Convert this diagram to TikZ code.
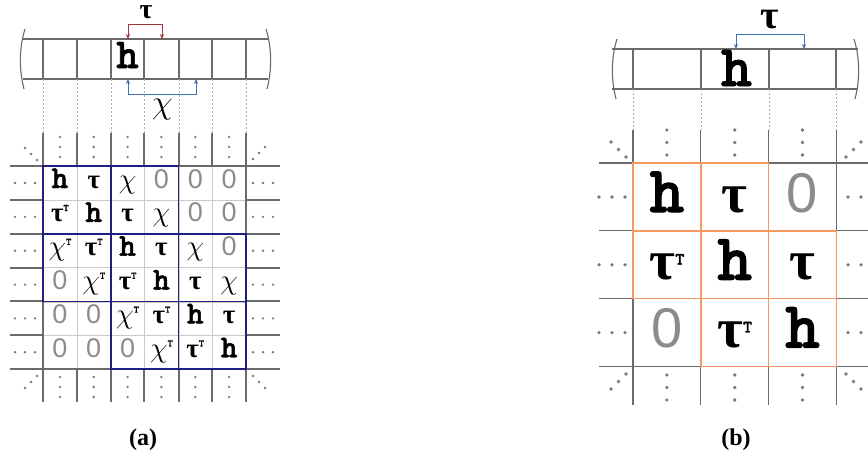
\documentclass[tikz,border=0pt]{standalone}
\usepackage{fontspec}
\setmainfont{Liberation Serif}
\newfontfamily\hfont{lmmonolt10-bold.otf}[FakeBold=1.5]
\newfontfamily\arl{Liberation Sans}
\usetikzlibrary{arrows.meta}
\usepackage{xcolor}
\definecolor{gridc}{HTML}{6A6A6A}
\definecolor{thinc}{HTML}{CACACA}
\definecolor{blkc}{HTML}{1E1E86}
\definecolor{orgc}{HTML}{F59A62}
\definecolor{redc}{HTML}{A0343A}
\definecolor{bluec}{HTML}{3C72B4}
\definecolor{dashc}{HTML}{A3ADC8}
\definecolor{dotc}{HTML}{777777}
\definecolor{zeroc}{HTML}{8C8C8C}
% matrix entries
\newcommand\eh{\scalebox{1.18}{\hfont h}}
\newcommand\et{{\rmfamily\bfseries τ}}
\newcommand\ex{\scalebox{1.15}{$\chi$}}
\newcommand\ez{{\arl\color{zeroc}0}}
\newcommand\trA{\raisebox{.4em}{\hfont\scalebox{.37}{T}}}
\newcommand\trB{\raisebox{.27em}{\hfont\scalebox{.31}{T}}}

\begin{document}
\begin{tikzpicture}[x=1pt, y=-1pt,
  gridline/.style={gridc, line width=1.1pt},
  thinline/.style={thinc, line width=.6pt},
  blkline/.style={blkc, line width=1.8pt},
  orgline/.style={orgc, line width=1.4pt},
  dashline/.style={dashc, line width=.6pt, dash pattern=on 2pt off 2pt},
  brk/.style={line width=.7pt, {Stealth[length=5pt,width=4pt]}-{Stealth[length=5pt,width=4pt]}},
  lbl/.style={inner sep=0, anchor=base, text height=.5em, text depth=0pt},
  ea/.style={font=\fontsize{27}{27}\selectfont, inner sep=0, anchor=base},
  eb/.style={font=\fontsize{56}{56}\selectfont, inner sep=0, anchor=base}]
  \useasboundingbox (0,0) rectangle (868,464);

  % ---------- (a) ----------
  % strip
  \draw[gridline] (23,39) -- (268,39) (23,79) -- (268,79);
  \foreach \x in {43,77,111,144,179,212,246}
    \draw[gridline] (\x,39) -- (\x,79);
  \draw[gridline] (25,29) .. controls (19,48) and (19,70) .. (24,89);
  \draw[gridline] (266,29) .. controls (272,48) and (272,70) .. (267,89);
  \foreach \x in {43,77,111,144,179,212,246}
    \draw[dashline] (\x,79) -- (\x,133);
  \node[font=\fontsize{36}{36}\selectfont, inner sep=0, anchor=base] (sha) at (127.5,68) {\eh};
  \coordinate (ra1) at (128,39);
  \coordinate (ra2) at (162,39);
  \coordinate (ba1) at (128,79);
  \coordinate (ba2) at (196,79);
  \draw[brk, redc] (ra1) -- ++(0,-15) -| (ra2);
  \draw[brk, bluec] (ba1) -- ++(0,15) -| (ba2);
  \node[lbl, font=\fontsize{28}{28}\selectfont] (taua) at (146,18) {\et};
  \node[font=\fontsize{25}{25}\selectfont, inner sep=0, anchor=base] (chia) at (162.5,113) {\scalebox{1.17}{\ex}};

  % grid
  \foreach \y in {166,200,234,268,301,335,369}
    \draw[gridline] (10,\y) -- (43,\y) (246,\y) -- (280,\y);
  \foreach \x in {43,77,111,144,179,212,246}
    \draw[gridline] (\x,133) -- (\x,166) (\x,369) -- (\x,402);
  \foreach \v in {77,111,144,179,212} {
    \draw[thinline] (\v,166) -- (\v,369);
    \draw[thinline] (43,\v+123) -- (246,\v+123);
  }
  \draw[gridline] (43,166) rectangle (246,369);
  \foreach \c/\r in {0/0,1/0,0/1,1/1,2/1,1/2,2/2}
    \draw[blkline] ({43+67.7*\c},{166+67.7*\r}) rectangle ++(67.7,67.7);

  \foreach \e [count=\i from 0] in {
      \eh,\et,\ex,\ez,\ez,\ez,
      \et\trA,\eh,\et,\ex,\ez,\ez,
      \ex\trA,\et\trA,\eh,\et,\ex,\ez,
      \ez,\ex\trA,\et\trA,\eh,\et,\ex,
      \ez,\ez,\ex\trA,\et\trA,\eh,\et,
      \ez,\ez,\ez,\ex\trA,\et\trA,\eh} {
    \pgfmathtruncatemacro\cc{mod(\i,6)}
    \pgfmathtruncatemacro\rr{\i/6}
    \node[ea] (a\i) at ({59.9+33.85*\cc},{188+33.85*\rr}) {\e};
  }

  % dots
  \foreach \k in {0,1,2} {
    \foreach \rr in {0,...,5} {
      \fill[dotc] ({15+10*\k},{183+33.85*\rr}) circle[radius=1.3pt];
      \fill[dotc] ({253+10*\k},{183+33.85*\rr}) circle[radius=1.3pt];
    }
    \foreach \cc in {0,...,5} {
      \fill[dotc] ({59.9+33.85*\cc},{137+10*\k}) circle[radius=1.3pt];
      \fill[dotc] ({59.9+33.85*\cc},{377+10*\k}) circle[radius=1.3pt];
    }
    \fill[dotc] ({25+6*\k},{148+6*\k}) circle[radius=1.3pt];
    \fill[dotc] ({253+6*\k},{159-6*\k}) circle[radius=1.3pt];
    \fill[dotc] ({25+6*\k},{388-6*\k}) circle[radius=1.3pt];
    \fill[dotc] ({253+6*\k},{376+6*\k}) circle[radius=1.3pt];
  }

  % ---------- (b) ----------
  % strip
  \draw[gridline] (612,49) -- (858,49) (612,89) -- (858,89);
  \foreach \x in {633,701,769,836}
    \draw[gridline] (\x,49) -- (\x,89);
  \draw[gridline] (617,39) .. controls (611,58) and (611,80) .. (616,99);
  \draw[gridline] (854,39) .. controls (860,58) and (860,80) .. (855,99);
  \foreach \x in {633,701,769,836}
    \draw[dashline] (\x,89) -- (\x,130);
  \node[font=\fontsize{50}{50}\selectfont, inner sep=0, anchor=base] (shb) at (736.5,86) {\eh};
  \coordinate (rb1) at (736,49);
  \coordinate (rb2) at (804,49);
  \draw[brk, bluec] (rb1) -- ++(0,-15) -| (rb2);
  \node[lbl, font=\fontsize{40}{40}\selectfont] (taub) at (770,28) {\et};

  % grid
  \foreach \y in {163,230.8,298.6,366.4}
    \draw[gridline] (599,\y) -- (633,\y) (836.4,\y) -- (868,\y);
  \foreach \x in {633,700.8,768.6,836.4}
    \draw[gridline] (\x,130) -- (\x,163) (\x,366.4) -- (\x,405);
  \draw[gridline] (633,163) rectangle (836.4,366.4);
  \foreach \c/\r in {0/0,1/0,0/1,1/1,2/1,1/2,2/2}
    \draw[orgline] ({633+67.8*\c},{163+67.8*\r}) rectangle ++(67.8,67.8);

  \foreach \e [count=\i from 0] in {
      \eh,\et,\ez,
      \et\trB,\eh,\et,
      \ez,\et\trB,\eh} {
    \pgfmathtruncatemacro\cc{mod(\i,3)}
    \pgfmathtruncatemacro\rr{\i/3}
    \node[eb] (b\i) at ({666.9+67.8*\cc},{212+67.8*\rr}) {\e};
  }

  % dots
  \foreach \k in {0,1,2} {
    \foreach \rr in {0,1,2} {
      \fill[dotc] ({599+13*\k},{197+67.8*\rr}) circle[radius=1.8pt];
      \fill[dotc] ({848+13*\k},{197+67.8*\rr}) circle[radius=1.8pt];
    }
    \foreach \cc in {0,1,2} {
      \fill[dotc] ({666.9+67.8*\cc},{130+12.5*\k}) circle[radius=1.8pt];
      \fill[dotc] ({666.9+67.8*\cc},{375+12.5*\k}) circle[radius=1.8pt];
    }
    \fill[dotc] ({611+7.5*\k},{142+7.5*\k}) circle[radius=1.8pt];
    \fill[dotc] ({846+7.5*\k},{157-7.5*\k}) circle[radius=1.8pt];
    \fill[dotc] ({611+7.5*\k},{389-7.5*\k}) circle[radius=1.8pt];
    \fill[dotc] ({846+7.5*\k},{374+7.5*\k}) circle[radius=1.8pt];
  }

  % captions
  \node[font=\bfseries\fontsize{24}{24}\selectfont] (capa) at (143,440) {(a)};
  \node[font=\bfseries\fontsize{24}{24}\selectfont] (capb) at (736,440) {(b)};
\end{tikzpicture}
\end{document}
